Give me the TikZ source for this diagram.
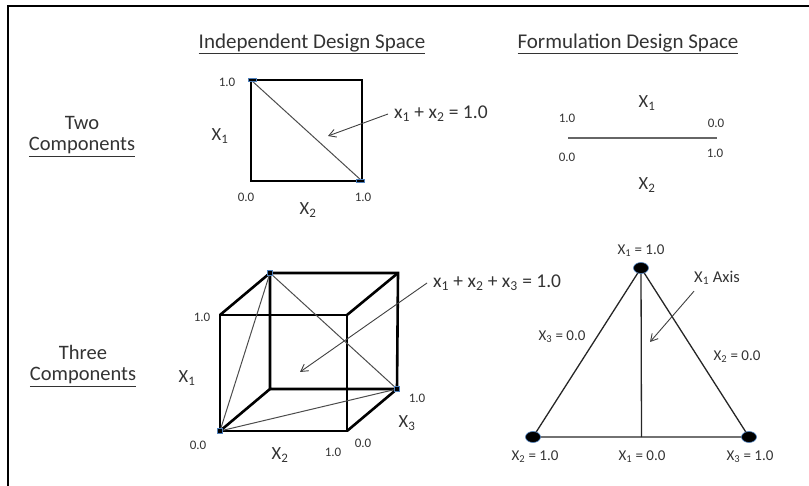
\documentclass[tikz,border=0pt]{standalone}
\usepackage{fontspec}
\setmainfont{Carlito}
\usetikzlibrary{arrows.meta,positioning}
\definecolor{txtgray}{HTML}{333333}
\definecolor{mkblue}{HTML}{4F81BD}

\tikzset{
  hdr/.style={text=txtgray, font=\fontsize{21}{23}\selectfont, inner sep=0pt},
  row/.style={text=txtgray, font=\fontsize{20.5}{22}\selectfont, inner sep=0pt},
  num/.style={text=txtgray, font=\fontsize{13}{15}\selectfont, inner sep=0pt},
  var/.style={text=txtgray, font=\fontsize{18.5}{21}\selectfont, inner sep=0pt},
  eqn/.style={text=txtgray, font=\fontsize{19.5}{21}\selectfont, inner sep=0pt},
  val/.style={text=txtgray, font=\fontsize{15}{17}\selectfont, inner sep=0pt},
  edge/.style={line width=2.6pt},
  thin/.style={line width=1pt, draw=black!70},
  pointer/.style={line width=0.9pt, draw=black!75, -{Straight Barb[length=7pt,width=8pt]}},
  corner/.style={fill=black, draw=mkblue, line width=0.6pt},
}

\begin{document}
\begin{tikzpicture}[x=1pt, y=-1pt]

		\useasboundingbox (0,0) rectangle (809,486);

		% frame
		\draw[line width=2pt] (8,486) -- (8,6) -- (809,6);

		% column headings
		\node[hdr] (hind) at (312,44) {\underline{Independent Design Space}};
		\node[hdr] (hfor) at (628,44) {\underline{Formulation Design Space}};

		% row headings
		\node[row] (two) at (82,123) {Two};
		\node[row] (twoc) at (82,147) {\underline{Components}};
		\node[row] (three) at (83,352) {Three};
		\node[row] (threec) at (83,377) {\underline{Components}};

		% square
		\coordinate (s00) at (251,181);
		\coordinate (s01) at (251,80);
		\coordinate (s11) at (362,80);
		\coordinate (s10) at (362,181);
		\draw[line width=2pt] (s01) -- (s00) -- (s10);
		\draw[edge] (s01) -- (s11) -- (s10);
		\draw[thin] (s01) -- (s10);
		\filldraw[corner] ([shift={(-3,-1.5)}]s01) rectangle ([shift={(5,1.5)}]s01);
		\filldraw[corner] ([shift={(-6,-1.5)}]s10) rectangle ([shift={(2,1.5)}]s10);

		\node[num] (sy1) at (227,82) {1.0};
		\node[var] (sx1) at (220,136) {X\textsubscript{1}};
		\node[num] (sy0) at (246,197) {0.0};
		\node[num] (sxr) at (363,197) {1.0};
		\node[var] (sx2) at (308,210) {X\textsubscript{2}};

		% mixture line, two components
		\coordinate (c2) at (328,136);
		\node[eqn, anchor=west] (eq2) at (394,114) {x\textsubscript{1} + x\textsubscript{2} = 1.0};
		\draw[pointer] ([xshift=-6pt]eq2.west) -- (c2);

		% formulation line, two components
		\coordinate (fl) at (568,138);
		\coordinate (fr) at (717,138);
		\draw[line width=1.5pt, draw=black!60] (fl) -- (fr);
		\node[var] (fx1) at (647,103) {X\textsubscript{1}};
		\node[num] (fa) at (567,118) {1.0};
		\node[num] (fb) at (716,123) {0.0};
		\node[num] (fc) at (567,157) {0.0};
		\node[num] (fd) at (715,153) {1.0};
		\node[var] (fx2) at (647,185) {X\textsubscript{2}};

		% cube
		\coordinate (fTL) at (220,315);
		\coordinate (fTR) at (347,315);
		\coordinate (fBR) at (347,431);
		\coordinate (fBL) at (220,431);
		\coordinate (bTL) at (270,273);
		\coordinate (bTR) at (398,273);
		\coordinate (bBR) at (397,389);
		\coordinate (bBL) at (270,389);
		\draw[edge] (fTL) -- (fTR) -- (fBR) -- (fBL) -- cycle;
		\draw[edge] (bTL) -- (bTR) -- (bBR) -- (bBL) -- cycle;
		\draw[edge] (fTL) -- (bTL);
		\draw[edge] (fTR) -- (bTR);
		\draw[edge] (fBR) -- (bBR);
		\draw[edge] (fBL) -- (bBL);

		% simplex inside cube
		\draw[thin] (bTL) -- (fBL);
		\draw[thin] (bTL) -- (bBR);
		\draw[thin] (fBL) -- (bBR);
		\foreach \p in {bTL,bBR,fBL}
			\filldraw[corner] ([shift={(-2.5,-2.5)}]\p) rectangle ([shift={(2.5,2.5)}]\p);

		\node[num] (cy1) at (202,317) {1.0};
		\node[var] (cx1) at (187,378) {X\textsubscript{1}};
		\node[num] (cy0) at (198,445) {0.0};
		\node[var] (cx2) at (280,455) {X\textsubscript{2}};
		\node[num] (cxr) at (333,452) {1.0};
		\node[num] (cz0) at (363,443) {0.0};
		\node[var] (cx3) at (407,423) {X\textsubscript{3}};
		\node[num] (cz1) at (417,398) {1.0};

		\coordinate (c3) at (300,372);
		\node[eqn, anchor=west] (eq3) at (433,283)
			{x\textsubscript{1} + x\textsubscript{2} + x\textsubscript{3} = 1.0};
		\draw[pointer] ([xshift=-6pt]eq3.west) -- (c3);

		% triangle
		\coordinate (tT) at (641,268);
		\coordinate (tL) at (533,437);
		\coordinate (tR) at (749,437);
		\coordinate (tM) at (641.5,437);
		\draw[line width=1.3pt, draw=black!85] (tT) -- (tL) -- (tR) -- cycle;
		\draw[line width=1.3pt, draw=black!85] (tT) -- (tM);
		\foreach \p in {tT,tL,tR}
			\filldraw[fill=black, draw=mkblue, line width=0.6pt] (\p) ellipse (7.5 and 5.5);

		\node[val] (vt) at (641,251) {X\textsubscript{1} = 1.0};
		\node[val] (vl) at (562,337) {X\textsubscript{3} = 0.0};
		\node[val] (vr) at (737,357) {X\textsubscript{2} = 0.0};
		\node[val] (vbl) at (535,457) {X\textsubscript{2} = 1.0};
		\node[val] (vbm) at (642,457) {X\textsubscript{1} = 0.0};
		\node[val] (vbr) at (750,457) {X\textsubscript{3} = 1.0};

		\coordinate (ca) at (650,342);
		\node[val, font=\fontsize{16.5}{18}\selectfont] (ax) at (717,278) {X\textsubscript{1} Axis};
		\draw[pointer] ([shift={(0,6)}]ax.south west) -- (ca);

	\end{tikzpicture}
\end{document}
